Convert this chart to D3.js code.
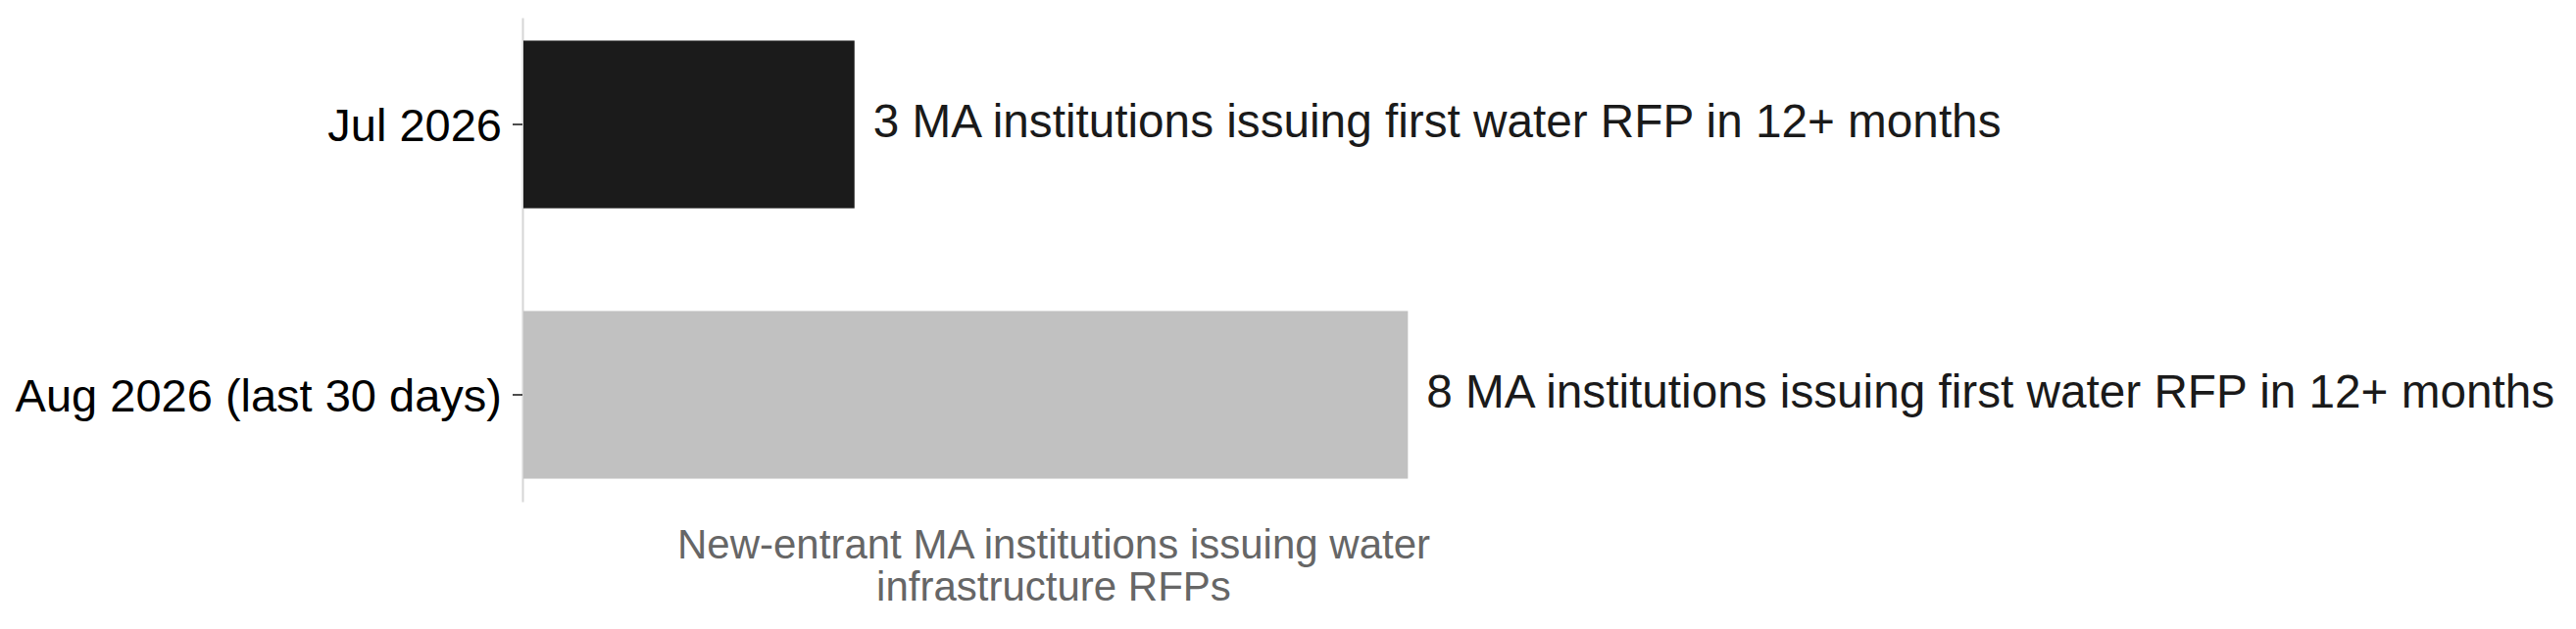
<!DOCTYPE html>
<html>
<head>
<meta charset="utf-8">
<script src="https://cdn.jsdelivr.net/npm/d3@7"></script>
<style>
  body { margin: 0; background: #fff; }
  text { font-family: "Liberation Sans", Arial, Helvetica, sans-serif; }
</style>
</head>
<body>
<div id="plotarea"></div>
<script>
// data
var periods = ["Jul 2026", "Aug 2026 (last 30 days)"];
var newEntrants = [3, 8];
var barNote = " MA institutions issuing first water RFP in 12+ months";
var axisTitle = ["New-entrant MA institutions issuing water", "infrastructure RFPs"];

// styles
var barColors = ["#1b1b1b", "#c1c1c1"];

var W = 2628, H = 642;
// plot area (note: "top" is reserved on window, so use other names)
var plotLeft = 533, plotRight = 1617, plotTop = 18, plotBottom = 512;

var svg = d3.select("#plotarea").append("svg")
    .attr("width", W)
    .attr("height", H);

var x = d3.scaleLinear()
    .domain([0, d3.max(newEntrants) * 1.2])
    .range([plotLeft, plotRight]);

var y = d3.scaleBand()
    .domain(periods)
    .range([plotTop, plotBottom])
    .paddingInner(0.38)
    .paddingOuter(0.085);

// y axis with category labels
var yAxis = svg.append("g")
    .attr("transform", "translate(" + plotLeft + ",0)")
    .call(d3.axisLeft(y).tickSize(10).tickSizeOuter(0).tickPadding(11));

yAxis.select(".domain")
    .attr("stroke", "#d6d6d6")
    .attr("stroke-width", 2);
yAxis.selectAll(".tick line")
    .attr("stroke", "#222")
    .attr("stroke-width", 1.6);
yAxis.selectAll(".tick text")
    .attr("fill", "#000")
    .attr("dy", "0.37em")
    .style("font-size", "47px");

// bars
var arr = periods.map(function(p, i) {
    return { period: p, value: newEntrants[i], color: barColors[i] };
});

svg.selectAll(".bar")
    .data(arr)
    .enter().append("rect")
    .attr("class", "bar")
    .attr("x", x(0) + 1)
    .attr("y", function(d) { return y(d.period); })
    .attr("width", function(d) { return x(d.value) - x(0) - 1; })
    .attr("height", y.bandwidth())
    .attr("fill", function(d) { return d.color; });

// labels at bar ends
svg.selectAll(".bar-label")
    .data(arr)
    .enter().append("text")
    .attr("class", "bar-label")
    .attr("x", function(d) { return x(d.value) + 19; })
    .attr("y", function(d) { return y(d.period) + y.bandwidth() / 2; })
    .attr("dy", "0.28em")
    .attr("fill", "#1a1a1a")
    .style("font-size", "47.7px")
    .text(function(d) { return d.value + barNote; });

// x axis title (no ticks on the x axis)
var midX = (x.range()[0] + x.range()[1]) / 2;
svg.append("text")
    .attr("x", midX)
    .attr("y", 570)
    .attr("text-anchor", "middle")
    .attr("fill", "#666")
    .style("font-size", "42px")
    .selectAll("tspan")
    .data(axisTitle)
    .enter().append("tspan")
    .attr("x", midX)
    .attr("dy", function(d, i) { return i === 0 ? 0 : 43; })
    .text(function(d) { return d; });
</script>
</body>
</html>
